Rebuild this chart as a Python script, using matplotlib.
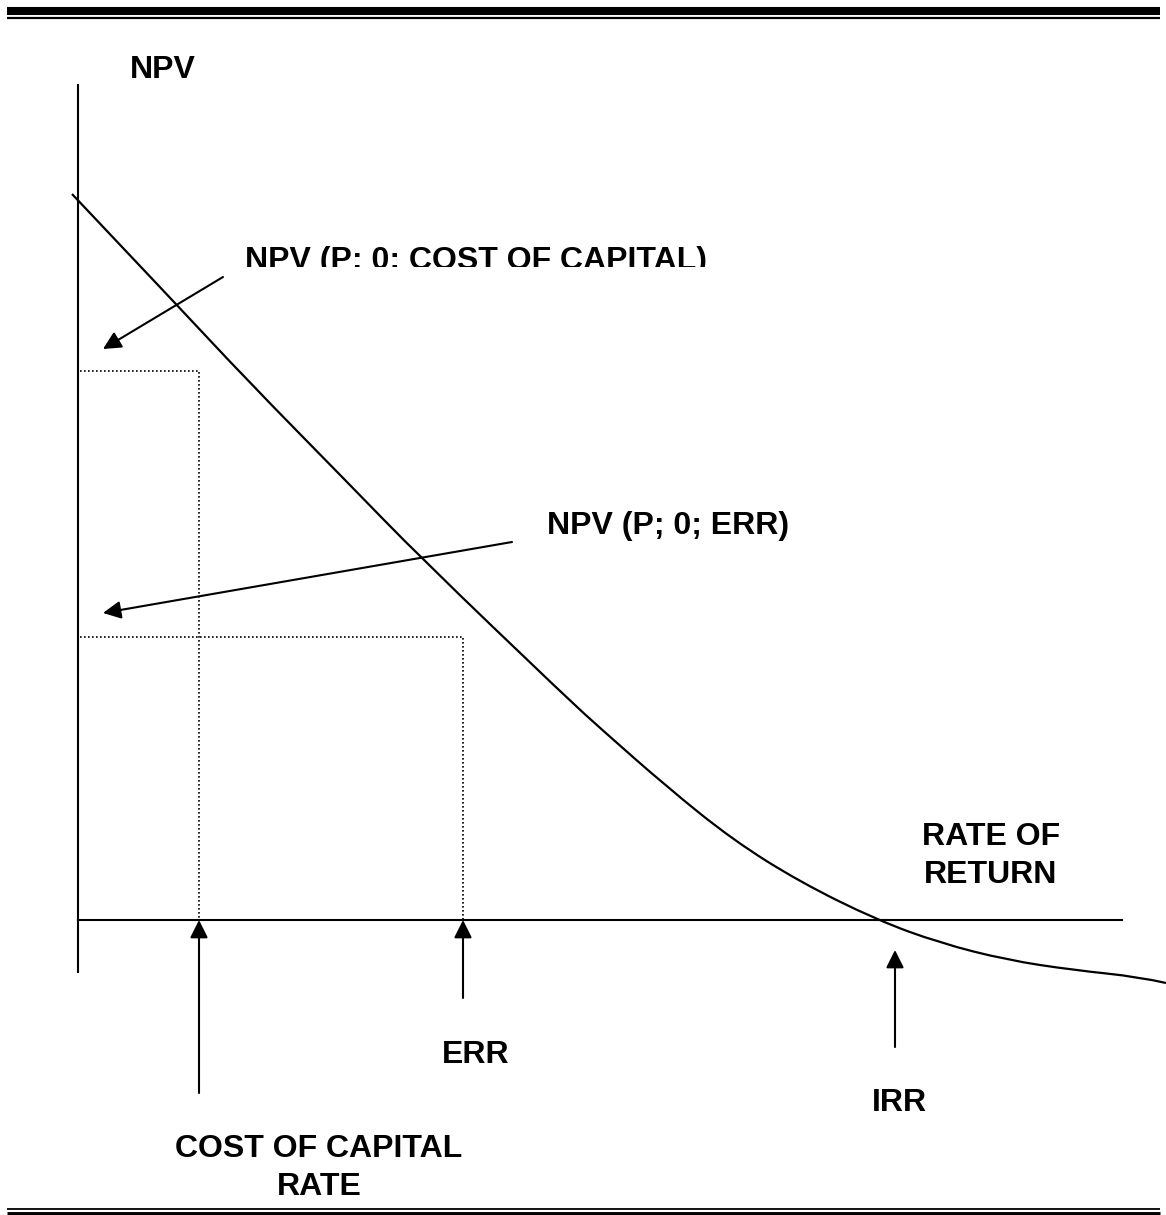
import matplotlib
matplotlib.use('Agg')
import matplotlib.pyplot as plt
from matplotlib.patches import Rectangle, PathPatch
from matplotlib.path import Path

plt.rcParams['font.family'] = ['Liberation Sans', 'DejaVu Sans']

# Diagram works in page pixels (x right, y down)
W, H = 1166, 1215

# NPV profile
curve_x = [72, 177, 247, 350, 420, 567, 600, 667, 733, 800, 877, 940, 1007, 1073, 1140, 1166]
curve_y = [194, 305, 380, 485, 557, 698, 728, 787, 840, 882, 920, 943, 960, 970, 977, 983]

# axes of the diagram
origin_x, origin_y = 78, 920
y_axis_top, y_axis_bottom = 85, 972
x_axis_right = 1122

# rates marked on the horizontal axis
coc_x, err_x, irr_x = 199, 463, 895
# NPV levels on the vertical axis
npv_coc, npv_err = 371, 637

# (tail, tip) of each pointer arrow
arrows = [
    ((223, 277), (103, 349)),   # NPV at cost of capital
    ((512, 542), (103, 613)),   # NPV at ERR
    ((coc_x, 1093), (coc_x, origin_y)),
    ((err_x, 998), (err_x, origin_y)),
    ((irr_x, 1047), (irr_x, 950)),
]

# labels: text, x, baseline, alignment
labels = [
    ("NPV", 130, 78, 'left'),
    ("NPV (P; 0; ERR)", 547, 534, 'left'),
    ("RATE OF", 991, 845, 'center'),
    ("RETURN", 991, 883, 'center'),
    ("ERR", 442, 1063, 'left'),
    ("COST OF CAPITAL", 175, 1157, 'left'),
    ("RATE", 319, 1195, 'center'),
    ("IRR", 872, 1111, 'left'),
]

fig = plt.figure(figsize=(W / 100, H / 100), dpi=100)
ax = fig.add_axes([0, 0, 1, 1])
ax.set_xlim(0, W)
ax.set_ylim(H, 0)
ax.axis('off')

# page rules top and bottom
ax.plot([7, 1160], [11, 11], color='black', lw=5.8, solid_capstyle='butt')
ax.plot([7, 1160], [18, 18], color='black', lw=1.6, solid_capstyle='butt')
ax.plot([7, 1160], [1208.5, 1208.5], color='black', lw=1.3, solid_capstyle='butt')
ax.plot([7, 1160], [1214, 1214], color='black', lw=3.5, solid_capstyle='butt')

# axes
ax.plot([origin_x, origin_x], [y_axis_top, y_axis_bottom], color='black', lw=1.5)
ax.plot([origin_x, x_axis_right], [origin_y, origin_y], color='black', lw=1.5)

# NPV curve: quadratic bezier chain through the read points
pts = list(zip(curve_x, curve_y))
verts = [pts[0]]
codes = [Path.MOVETO]
for i in range(1, len(pts) - 1):
    nxt = pts[i + 1] if i == len(pts) - 2 else ((pts[i][0] + pts[i + 1][0]) / 2,
                                               (pts[i][1] + pts[i + 1][1]) / 2)
    verts += [pts[i], nxt]
    codes += [Path.CURVE3, Path.CURVE3]
ax.add_patch(PathPatch(Path(verts, codes), fill=False, edgecolor='black', lw=1.6))

# dotted guides
dot = (0, (1, 1.4))
for rx, ry in [(coc_x, npv_coc), (err_x, npv_err)]:
    ax.plot([origin_x + 2, rx, rx], [ry, ry, origin_y], color='black', lw=1.2, linestyle=dot)

for tail, tip in arrows:
    ax.annotate('', xy=tip, xytext=tail,
                arrowprops=dict(arrowstyle='-|>,head_length=0.4,head_width=0.2',
                                mutation_scale=27, lw=1.5, color='black',
                                shrinkA=0, shrinkB=0))

fs = 23
for txt, x, y, ha in labels:
    ax.text(x, y, txt, ha=ha, va='baseline', fontsize=fs, fontweight='bold')

# this label is cut off at the bottom in the original
t = ax.text(245, 269, "NPV (P: 0: COST OF CAPITAL)", ha='left', va='baseline',
            fontsize=fs, fontweight='bold')
t.set_clip_on(True)
t.set_clip_path(Rectangle((0, 0), W, 267, transform=ax.transData))

fig.savefig('out.png', dpi=100)
